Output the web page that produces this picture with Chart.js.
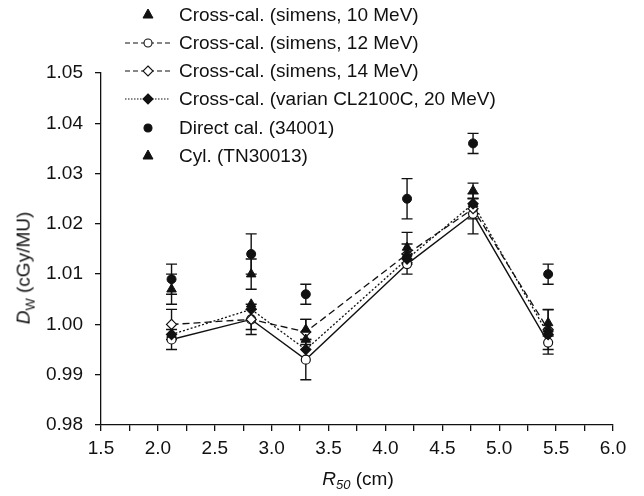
<!DOCTYPE html>
<html>
<head>
<meta charset="utf-8">
<script src="https://cdn.jsdelivr.net/npm/chart.js@4.4.1/dist/chart.umd.min.js"></script>
<style>
    body { margin: 0; background: #fff; }
    #wrap { position: relative; width: 644px; height: 496px; font-family: "Liberation Sans", Arial, sans-serif; color: #111; }
    #chart { position: absolute; left: 0; top: 0; }
    .leg-row { position: absolute; left: 124px; height: 22px; display: flex; align-items: center; font-size: 19px; white-space: nowrap; }
    .leg-row svg { width: 48px; height: 22px; margin-right: 7px; }
    .axis-title { position: absolute; font-size: 19px; white-space: nowrap; }
    .axis-title sub { font-size: 13px; }
</style>
</head>
<body>
<div id="wrap">
    <canvas id="chart" width="644" height="496"></canvas>
    <div id="legend"></div>
    <div class="axis-title" id="ytitle"><i>D</i><sub>W</sub> (cGy/MU)</div>
    <div class="axis-title" id="xtitle"><i>R</i><sub><i>50</i></sub> (cm)</div>
</div>
<script>
// R50 positions of the six beams (cm)
const r50 = [2.12, 2.82, 3.30, 4.19, 4.77, 5.43];

// Dw (cGy/MU) per method
const xc10 = [0.998, 1.004, 0.997, 1.014, 1.024, 0.999];
const xc12 = [0.997, 1.001, 0.993, 1.012, 1.022, 0.9964];
const xc14 = [1.000, 1.001, 0.9985, 1.014, 1.023, 0.999];
const xc20 = [0.998, 1.003, 0.995, 1.013, 1.024, 0.998];
const direct = [1.009, 1.014, 1.006, 1.025, 1.036, 1.010];
const cyl = [1.007, 1.010, 0.999, 1.0153, 1.0266, 1.0003];

// error bar half-lengths
const xc12Err = [0.002, 0.003, 0.004, 0.002, 0.004, 0.0023];
const xc14Err = [0.003, 0.002, 0.0025, 0.002, 0.002, 0.004];
const directErr = [0.003, 0.004, 0.002, 0.004, 0.002, 0.002];
const cylErr = [0.003, 0.003, 0.002, 0.003, 0.0015, 0.0026];

const xTicks = [1.5, 2.0, 2.5, 3.0, 3.5, 4.0, 4.5, 5.0, 5.5, 6.0];
const yTicks = [0.98, 0.99, 1.00, 1.01, 1.02, 1.03, 1.04, 1.05];

const legendLabels = [
    'Cross-cal. (simens, 10 MeV)',
    'Cross-cal. (simens, 12 MeV)',
    'Cross-cal. (simens, 14 MeV)',
    'Cross-cal. (varian CL2100C, 20 MeV)',
    'Direct cal. (34001)',
    'Cyl. (TN30013)'
];

const INK = '#111';
const pts = ys => r50.map((x, i) => ({ x: x, y: ys[i] }));

// error bars drawn under the markers
const errorBarPlugin = {
    id: 'errorBars',
    beforeDatasetsDraw(chart) {
        const { ctx, scales: { x, y } } = chart;
        ctx.save();
        ctx.strokeStyle = INK;
        ctx.lineWidth = 1.4;
        ctx.setLineDash([]);
        chart.data.datasets.forEach(ds => {
            if (!ds.errorBars) return;
            ds.data.forEach((p, i) => {
                const e = ds.errorBars[i];
                const px = x.getPixelForValue(p.x);
                const top = y.getPixelForValue(p.y + e);
                const bot = y.getPixelForValue(p.y - e);
                ctx.beginPath();
                ctx.moveTo(px, top); ctx.lineTo(px, bot);
                ctx.moveTo(px - 5.5, top); ctx.lineTo(px + 5.5, top);
                ctx.moveTo(px - 5.5, bot); ctx.lineTo(px + 5.5, bot);
                ctx.stroke();
            });
        });
        ctx.restore();
    }
};

const datasets = [
    {
        label: legendLabels[4], data: pts(direct), errorBars: directErr,
        showLine: false, pointStyle: 'circle', pointRadius: 4.5,
        backgroundColor: INK, borderColor: INK
    },
    {
        label: legendLabels[5], data: pts(cyl), errorBars: cylErr,
        showLine: false, pointStyle: 'triangle', pointRadius: 5.5,
        backgroundColor: INK, borderColor: INK
    },
    {
        label: legendLabels[3], data: pts(xc20),
        showLine: true, borderDash: [2, 2], borderWidth: 1.3,
        pointStyle: 'rectRot', pointRadius: 5,
        backgroundColor: INK, borderColor: INK
    },
    {
        label: legendLabels[0], data: pts(xc10),
        showLine: false, pointStyle: 'triangle', pointRadius: 5.5,
        backgroundColor: INK, borderColor: INK
    },
    {
        label: legendLabels[2], data: pts(xc14), errorBars: xc14Err,
        showLine: true, borderDash: [7, 4], borderWidth: 1.3,
        pointStyle: 'rectRot', pointRadius: 5, pointBorderWidth: 1.2,
        pointBackgroundColor: '#fff', backgroundColor: '#fff', borderColor: INK
    },
    {
        label: legendLabels[1], data: pts(xc12), errorBars: xc12Err,
        showLine: true, borderWidth: 1.4,
        pointStyle: 'circle', pointRadius: 4.5, pointBorderWidth: 1.2,
        pointBackgroundColor: '#fff', backgroundColor: '#fff', borderColor: INK
    }
];

const font = { family: '"Liberation Sans", Arial, sans-serif', size: 19 };

new Chart(document.getElementById('chart'), {
    type: 'scatter',
    data: { datasets: datasets },
    plugins: [errorBarPlugin],
    options: {
        responsive: false,
        animation: false,
        layout: { padding: { left: 0, top: 73, right: 31, bottom: 0 } },
        plugins: { legend: { display: false }, tooltip: { enabled: false } },
        scales: {
            x: {
                type: 'linear',
                min: xTicks[0], max: xTicks[xTicks.length - 1],
                afterFit: s => { s.height = 71; },
                afterBuildTicks: s => {
                    // major ticks plus a minor one halfway between
                    const t = [];
                    xTicks.forEach((v, i) => {
                        t.push({ value: v });
                        if (i < xTicks.length - 1) t.push({ value: v + 0.25, minor: true });
                    });
                    s.ticks = t;
                },
                ticks: {
                    autoSkip: false, maxRotation: 0, color: INK, font: font, padding: 6,
                    callback: v => (xTicks.some(t => Math.abs(t - v) < 1e-6) ? v.toFixed(1) : '')
                },
                grid: { drawOnChartArea: false, tickLength: 6, color: INK, lineWidth: 1.3 },
                border: { color: INK, width: 1.3 }
            },
            y: {
                type: 'linear',
                min: yTicks[0], max: yTicks[yTicks.length - 1],
                afterFit: s => { s.width = 101; },
                afterBuildTicks: s => { s.ticks = yTicks.map(v => ({ value: v })); },
                ticks: { color: INK, font: font, padding: 12, callback: v => v.toFixed(2) },
                grid: { drawOnChartArea: false, tickLength: 6, color: INK, lineWidth: 1.3 },
                border: { color: INK, width: 1.3 }
            }
        }
    }
});

// legend, drawn as html rows with small svg samples
const legendStyles = [
    { line: null, marker: 'tri', fill: INK },
    { line: '5,3', marker: 'circle', fill: '#fff' },
    { line: '5,3', marker: 'diamond', fill: '#fff' },
    { line: '1.5,1.5', marker: 'diamond', fill: INK },
    { line: null, marker: 'circle', fill: INK },
    { line: null, marker: 'tri', fill: INK }
];
const rowCenters = [15, 43, 71, 99, 128, 156];
const legendEl = document.getElementById('legend');

function markerSvg(kind, fill) {
    if (kind === 'tri') return `<polygon points="24,5 29,14 19,14" fill="${fill}" stroke="${INK}" stroke-width="1"/>`;
    if (kind === 'circle') return `<circle cx="24" cy="11" r="4" fill="${fill}" stroke="${INK}" stroke-width="1.1"/>`;
    return `<polygon points="24,6 29,11 24,16 19,11" fill="${fill}" stroke="${INK}" stroke-width="1.1"/>`;
}

legendLabels.forEach((text, i) => {
    const st = legendStyles[i];
    const row = document.createElement('div');
    row.className = 'leg-row';
    row.style.top = (rowCenters[i] - 11) + 'px';
    const line = st.line ? `<line x1="1" y1="11" x2="46" y2="11" stroke="${INK}" stroke-width="1.2" stroke-dasharray="${st.line}"/>` : '';
    row.innerHTML = `<svg viewBox="0 0 48 22">${line}${markerSvg(st.marker, st.fill)}</svg><span>${text}</span>`;
    legendEl.appendChild(row);
});

const yTitle = document.getElementById('ytitle');
yTitle.style.left = '25px';
yTitle.style.top = '268px';
yTitle.style.transform = 'translate(-50%, -50%) rotate(-90deg)';
const xTitle = document.getElementById('xtitle');
xTitle.style.left = '358px';
xTitle.style.top = '480px';
xTitle.style.transform = 'translate(-50%, -50%)';
</script>
</body>
</html>
